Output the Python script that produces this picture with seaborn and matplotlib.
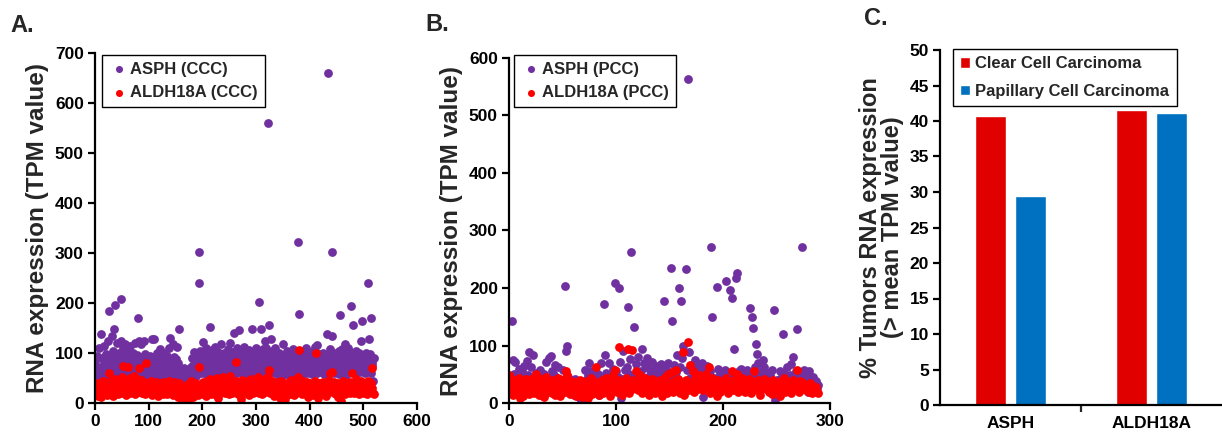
import numpy as np
import pandas as pd
import matplotlib
matplotlib.use("Agg")
import matplotlib.pyplot as plt
import seaborn as sns

# ---- data ----
# A: clear cell carcinoma (CCC), TPM values per tumour sample
aspH_ccc = [
    84, 60, 45, 95, 30, 72, 55, 40, 110, 68, 52, 138, 25, 90, 62, 48, 115, 80, 35, 70,
    98, 55, 42, 88, 66, 125, 184, 74, 50, 92, 60, 135, 82, 45, 105, 70, 148, 196, 58, 95,
    76, 120, 63, 48, 100, 85, 57, 72, 209, 125, 66, 40, 92, 110, 78, 54, 118, 62, 88, 70,
    104, 50, 75, 95, 60, 82, 114, 45, 68, 90, 56, 100, 73, 48, 86, 120, 64, 52, 96, 80,
    171, 58, 125, 70, 44, 92, 118, 62, 84, 50, 75, 124, 66, 98, 55, 80, 40, 70, 60, 88,
    72, 52, 95, 64, 80, 46, 128, 70, 58, 90, 128, 62, 76, 50, 86, 60, 100, 44, 72, 66,
    80, 56, 108, 68, 48, 90, 62, 76, 54, 100, 70, 44, 84, 60, 95, 52, 72, 64, 110, 58,
    130, 66, 82, 50, 75, 118, 60, 92, 46, 70, 88, 58, 112, 64, 40, 80, 149, 55, 70, 62,
    48, 60, 36, 52, 44, 70, 30, 56, 42, 64, 38, 50, 28, 58, 46, 66, 34, 54, 72, 40,
    62, 90, 50, 76, 102, 58, 84, 68, 96, 54, 80, 100, 66, 302, 240, 88, 104, 72, 60, 94,
    78, 122, 64, 98, 86, 70, 110, 58, 92, 76, 104, 66, 84, 100, 72, 153, 90, 62, 106, 80,
    96, 74, 88, 60, 112, 82, 70, 94, 56, 102, 78, 86, 64, 98, 72, 118, 84, 68, 90, 76,
    58, 100, 82, 70, 92, 64, 86, 108, 74, 96, 60, 80, 120, 70, 88, 54, 102, 78, 66, 141,
    84, 72, 94, 60, 110, 80, 68, 98, 146, 76, 90, 62, 104, 70, 86, 58, 96, 82, 112, 74,
    64, 92, 78, 100, 70, 88, 58, 106, 80, 72, 96, 66, 84, 149, 76, 102, 62, 90, 74, 86,
    110, 68, 94, 80, 72, 202, 100, 64, 88, 76, 148, 92, 70, 108, 82, 60, 96, 125, 78, 110,
    86, 74, 560, 98, 68, 157, 90, 80, 128, 64, 104, 76, 92, 70, 86, 110, 60, 82, 96, 74,
    68, 88, 56, 100, 78, 64, 92, 50, 84, 70, 118, 62, 96, 76, 58, 90, 72, 104, 66, 80,
    60, 94, 74, 86, 52, 100, 70, 82, 64, 108, 76, 90, 58, 96, 72, 84, 62, 100, 68, 323,
    179, 88, 70, 104, 62, 92, 76, 84, 58, 98, 72, 86, 66, 110, 80, 60, 94, 74, 88, 68,
    84, 62, 96, 76, 58, 90, 70, 104, 64, 86, 112, 74, 92, 60, 116, 80, 70, 98, 66, 88,
    76, 94, 62, 84, 72, 100, 58, 90, 80, 68, 96, 74, 138, 86, 64, 661, 92, 78, 108, 70,
    84, 135, 303, 66, 96, 78, 60, 88, 74, 100, 62, 92, 80, 70, 104, 58, 176, 86, 72, 94,
    66, 108, 80, 60, 100, 74, 118, 88, 56, 96, 70, 84, 110, 64, 92, 78, 102, 194, 68, 90,
    82, 156, 74, 96, 60, 88, 76, 104, 66, 92, 80, 70, 100, 62, 86, 125, 74, 165, 90, 68,
    84, 72, 96, 60, 88, 100, 76, 64, 92, 240, 128, 70, 84, 98, 170, 60, 80, 74, 44, 90,
]
aldh_ccc = [
    30, 22, 18, 35, 26, 40, 14, 28, 33, 20, 38, 24, 12, 30, 45, 27, 19, 34, 42, 25,
    36, 21, 29, 16, 40, 32, 60, 23, 37, 18, 44, 28, 31, 15, 39, 26, 33, 48, 22, 30,
    41, 27, 35, 19, 46, 30, 24, 38, 20, 34, 52, 28, 75, 36, 22, 43, 31, 17, 40, 26,
    33, 45, 72, 29, 38, 21, 50, 35, 27, 42, 24, 36, 55, 30, 19, 44, 32, 26, 48, 37,
    28, 40, 70, 23, 35, 46, 30, 20, 38, 33, 25, 43, 29, 36, 18, 80, 34, 27, 41, 31,
    26, 39, 22, 35, 30, 44, 17, 33, 28, 40, 24, 36, 31, 20, 42, 29, 34, 15, 38, 27,
    32, 23, 41, 30, 26, 37, 19, 35, 28, 43, 22, 31, 39, 25, 34, 18, 40, 29, 45, 24,
    36, 21, 30, 38, 27, 33, 16, 42, 26, 31, 20, 37, 29, 24, 35, 12, 28, 40, 22, 32,
    18, 26, 8, 30, 14, 22, 6, 28, 12, 34, 20, 10, 25, 16, 38, 9, 24, 30, 14, 44,
    20, 28, 36, 12, 32, 24, 40, 18, 30, 26, 22, 34, 16, 28, 73, 38, 20, 30, 24, 35,
    27, 42, 19, 33, 25, 38, 14, 30, 22, 45, 28, 20, 36, 24, 32, 48, 18, 40, 26, 30,
    34, 22, 44, 28, 38, 16, 30, 50, 25, 36, 10, 33, 42, 20, 28, 46, 24, 38, 30, 52,
    26, 35, 20, 44, 30, 22, 40, 28, 48, 18, 34, 26, 55, 30, 24, 38, 20, 42, 28, 33,
    22, 36, 28, 83, 30, 44, 18, 32, 26, 40, 24, 35, 8, 30, 46, 22, 38, 28, 34, 20,
    40, 26, 33, 44, 22, 30, 38, 16, 35, 28, 48, 24, 32, 42, 20, 36, 27, 45, 30, 22,
    34, 40, 25, 52, 30, 20, 38, 28, 44, 24, 36, 30, 18, 42, 26, 35, 48, 22, 32, 40,
    28, 36, 24, 55, 30, 66, 20, 38, 26, 44, 32, 22, 40, 30, 14, 36, 28, 42, 24, 34,
    30, 20, 38, 26, 10, 32, 44, 24, 36, 18, 28, 40, 22, 34, 8, 30, 26, 38, 20, 32,
    28, 42, 24, 36, 18, 30, 46, 22, 34, 26, 38, 16, 32, 28, 44, 20, 36, 24, 30, 52,
    107, 34, 22, 40, 28, 36, 18, 32, 44, 24, 30, 38, 20, 34, 26, 42, 12, 30, 36, 22,
    32, 26, 40, 20, 34, 28, 38, 16, 30, 24, 44, 100, 26, 36, 22, 32, 10, 30, 40, 24,
    36, 28, 20, 34, 26, 42, 18, 30, 38, 24, 32, 14, 28, 40, 22, 36, 46, 26, 60, 30,
    24, 38, 62, 28, 34, 20, 42, 26, 30, 18, 36, 24, 40, 12, 32, 28, 22, 38, 5, 30,
    34, 20, 44, 28, 36, 18, 30, 40, 24, 32, 26, 38, 22, 34, 28, 42, 20, 30, 60, 36,
    26, 32, 20, 38, 28, 34, 48, 22, 30, 40, 24, 36, 18, 32, 28, 44, 22, 30, 38, 26,
    34, 20, 40, 28, 32, 24, 38, 18, 30, 44, 26, 36, 22, 34, 28, 40, 70, 30, 20, 18,
]

# B: papillary cell carcinoma (PCC)
asph_pcc = [
    26, 40, 32, 143, 74, 50, 72, 28, 36, 60, 18, 44, 55, 30, 65, 38, 24, 73, 48, 88,
    34, 62, 84, 42, 28, 52, 36, 46, 20, 58, 30, 40, 12, 50, 26, 72, 44, 78, 34, 82,
    56, 24, 48, 66, 38, 30, 62, 42, 18, 36, 58, 28, 204, 91, 100, 46, 34, 26, 40, 20,
    30, 14, 42, 24, 36, 10, 20, 6, 2, 28, 34, 58, 40, 22, 48, 70, 30, 56, 18, 38,
    26, 44, 30, 50, 14, 36, 70, 24, 42, 173, 84, 52, 34, 70, 44, 28, 48, 60, 38, 208,
    56, 30, 46, 200, 72, 8, 42, 90, 58, 34, 62, 167, 50, 76, 263, 24, 44, 133, 36, 68,
    48, 80, 30, 56, 94, 40, 70, 26, 62, 78, 46, 34, 58, 22, 72, 50, 38, 64, 30, 44,
    56, 26, 68, 40, 52, 177, 32, 60, 44, 70, 28, 235, 143, 48, 66, 36, 54, 84, 42, 200,
    62, 177, 78, 100, 30, 233, 58, 563, 89, 44, 66, 36, 56, 28, 74, 48, 62, 40, 34, 58,
    70, 10, 46, 52, 30, 64, 38, 48, 56, 271, 150, 26, 44, 36, 202, 60, 22, 50, 40, 30,
    48, 34, 58, 213, 40, 26, 52, 197, 183, 44, 94, 36, 218, 226, 30, 56, 42, 60, 34, 50,
    46, 28, 58, 38, 52, 166, 36, 150, 131, 44, 62, 103, 86, 70, 30, 48, 56, 75, 62, 40,
    26, 44, 52, 38, 48, 38, 58, 30, 162, 6, 40, 22, 36, 56, 44, 28, 120, 50, 34, 40,
    62, 44, 30, 48, 67, 80, 44, 24, 56, 129, 40, 30, 52, 38, 272, 44, 58, 34, 48, 20,
    56, 30, 40, 22, 46, 36, 28, 38, 26, 32,
]
aldh_pcc = [
    48, 30, 22, 36, 14, 40, 26, 32, 18, 44, 8, 28, 38, 12, 34, 24, 42, 20, 30, 16,
    36, 26, 44, 18, 32, 50, 22, 38, 14, 30, 42, 24, 34, 10, 28, 46, 20, 36, 26, 32,
    18, 40, 28, 14, 34, 22, 44, 30, 12, 36, 24, 42, 20, 55, 48, 28, 32, 16, 38, 26,
    30, 22, 36, 12, 28, 18, 40, 24, 10, 32, 20, 14, 26, 38, 8, 30, 22, 44, 16, 34,
    20, 62, 28, 36, 14, 30, 24, 40, 18, 32, 26, 44, 22, 38, 12, 34, 28, 48, 24, 58,
    32, 20, 40, 98, 26, 36, 14, 30, 22, 44, 28, 94, 18, 34, 24, 92, 40, 26, 36, 56,
    30, 22, 48, 34, 18, 40, 26, 44, 20, 36, 28, 14, 32, 24, 42, 30, 18, 38, 26, 34,
    22, 40, 28, 12, 36, 24, 46, 30, 18, 50, 26, 34, 54, 20, 38, 28, 58, 24, 42, 32,
    18, 36, 26, 88, 14, 40, 30, 106, 22, 66, 34, 28, 56, 20, 44, 30, 36, 24, 48, 28,
    40, 22, 34, 30, 50, 26, 38, 62, 18, 32, 44, 24, 36, 28, 12, 40, 30, 20, 34, 26,
    38, 24, 32, 44, 28, 18, 36, 30, 56, 22, 40, 26, 34, 50, 20, 30, 38, 24, 44, 28,
    32, 20, 36, 26, 42, 30, 18, 38, 24, 56, 28, 34, 22, 40, 30, 14, 36, 26, 42, 32,
    24, 38, 28, 20, 34, 30, 16, 40, 26, 36, 22, 32, 28, 12, 38, 24, 30, 44, 20, 34,
    28, 22, 36, 30, 18, 40, 26, 34, 24, 58, 30, 20, 38, 28, 36, 24, 32, 26, 22, 30,
    20, 34, 26, 18, 30, 24, 22, 28, 20, 18,
]

# C: % tumours above mean TPM
genes = ["ASPH", "ALDH18A"]
pct_ccc = [40.7, 41.5]
pct_pcc = [29.4, 41.1]

PURPLE = "#7030A0"
RED = "#FF0000"
BAR_RED = "#E00000"
BAR_BLUE = "#0070C0"

sns.set_style("ticks")
plt.rcParams["font.family"] = ["Liberation Sans", "DejaVu Sans"]
plt.rcParams["font.weight"] = "bold"

fig = plt.figure(figsize=(12.22, 4.32), dpi=100)
W, H = 1222, 432


def px_axes(l, r, t, b):
    return fig.add_axes([l / W, (H - b) / H, (r - l) / W, (b - t) / H])


ax1 = px_axes(95, 417, 53, 403)
ax2 = px_axes(509, 830, 58, 403)
ax3 = px_axes(940, 1222, 50, 405)


def style_axis(ax):
    for s in ["top", "right"]:
        ax.spines[s].set_visible(False)
    for s in ["left", "bottom"]:
        ax.spines[s].set_linewidth(1.6)
        ax.spines[s].set_color("black")
    ax.tick_params(width=1.6, length=5, labelsize=12.5, colors="black", pad=3)
    for lab in ax.get_xticklabels() + ax.get_yticklabels():
        lab.set_fontweight("bold")


def scatter_panel(ax, y1, y2, lab1, lab2, xmax, ymax, ystep):
    d1 = pd.DataFrame({"sample": np.arange(len(y1)), "tpm": y1})
    d2 = pd.DataFrame({"sample": np.arange(len(y2)), "tpm": y2})
    sns.scatterplot(data=d1, x="sample", y="tpm", color=PURPLE, s=40,
                    linewidth=0, ax=ax, label=lab1)
    sns.scatterplot(data=d2, x="sample", y="tpm", color=RED, s=40,
                    linewidth=0, ax=ax, label=lab2)
    ax.set_xlim(0, xmax)
    ax.set_ylim(0, ymax)
    ax.set_xticks(range(0, xmax + 1, 100))
    ax.set_yticks(range(0, ymax + 1, ystep))
    ax.set_xlabel("")
    ax.set_ylabel("RNA expression (TPM value)", fontsize=17.5, fontweight="bold",
                  labelpad=4)
    style_axis(ax)


scatter_panel(ax1, aspH_ccc, aldh_ccc, "ASPH (CCC)", "ALDH18A (CCC)", 600, 700, 100)
scatter_panel(ax2, asph_pcc, aldh_pcc, "ASPH (PCC)", "ALDH18A (PCC)", 300, 600, 100)

for ax, anchor in [(ax1, (0.022, 0.994)), (ax2, (0.016, 1.009))]:
    leg = ax.legend(loc="upper left", bbox_to_anchor=anchor, frameon=True,
                    fancybox=False, edgecolor="black", framealpha=1,
                    prop={"weight": "bold", "size": 12}, handletextpad=0.1,
                    handlelength=1.2, borderpad=0.4, labelspacing=0.5,
                    markerscale=0.8, borderaxespad=0)
    leg.get_frame().set_linewidth(1.0)

# C: bar chart
bar_df = pd.DataFrame({
    "gene": genes + genes,
    "type": ["Clear Cell Carcinoma"] * 2 + ["Papillary Cell Carcinoma"] * 2,
    "pct": pct_ccc + pct_pcc,
})
sns.barplot(data=bar_df, x="gene", y="pct", hue="type",
            palette=[BAR_RED, BAR_BLUE], width=0.57, gap=0.22,
            saturation=1, ax=ax3)
ax3.set_xlim(-0.5, 1.5)
ax3.set_ylim(0, 50)
ax3.set_yticks(range(0, 51, 5))
ax3.set_xlabel("")
ax3.set_ylabel("% Tumors RNA expression\n(> mean TPM value)", fontsize=17,
               fontweight="bold", labelpad=4, linespacing=0.95)
style_axis(ax3)
ax3.tick_params(axis="x", length=0, pad=8)
ax3.set_xticks([0.5], minor=True)
ax3.tick_params(axis="x", which="minor", length=5, width=1.6)
leg3 = ax3.legend(loc="upper left", bbox_to_anchor=(0.046, 1.003), frameon=True,
                  fancybox=False, edgecolor="black", framealpha=1,
                  prop={"weight": "bold", "size": 12}, handlelength=0.6,
                  handleheight=0.6, handletextpad=0.3, borderpad=0.45,
                  labelspacing=0.75, borderaxespad=0, title=None)
leg3.get_frame().set_linewidth(1.0)

fig.text(10 / W, 1 - 32 / H, "A.", fontsize=17, fontweight="bold")
fig.text(425 / W, 1 - 31 / H, "B.", fontsize=17, fontweight="bold")
fig.text(864 / W, 1 - 25 / H, "C.", fontsize=17, fontweight="bold")

fig.savefig("out.png", dpi=100)
